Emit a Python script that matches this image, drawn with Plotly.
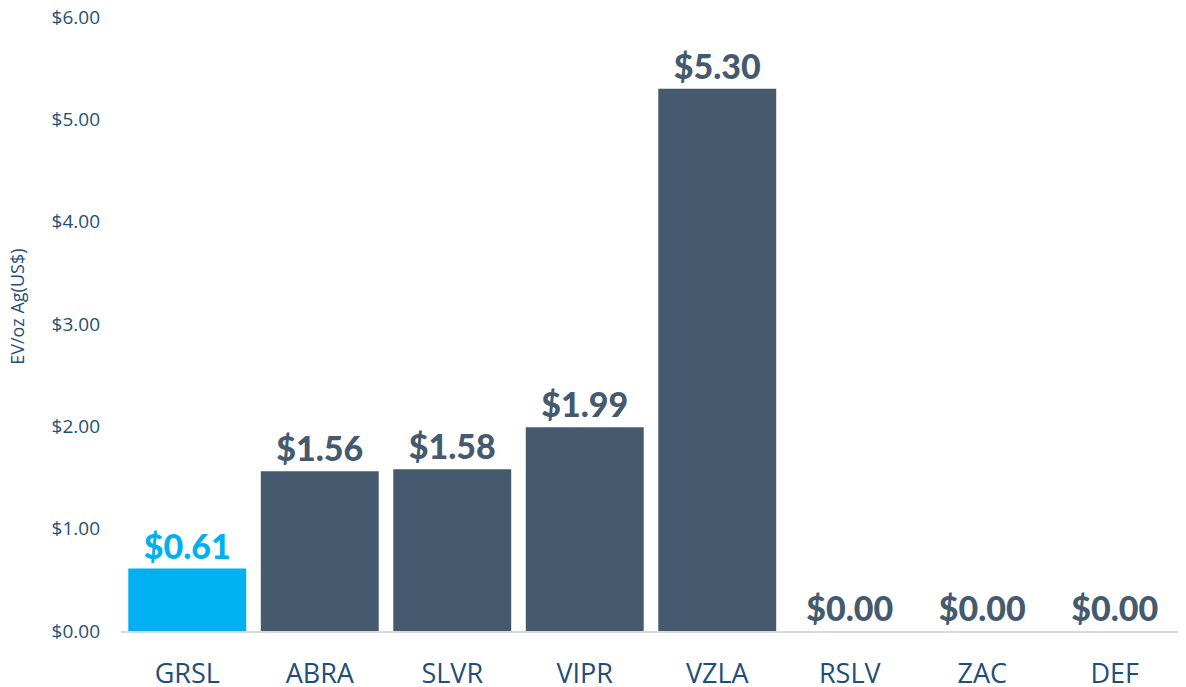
import plotly.graph_objects as go

categories = ["GRSL", "ABRA", "SLVR", "VIPR", "VZLA", "RSLV", "ZAC", "DEF"]
values = [0.61, 1.56, 1.58, 1.99, 5.30, 0.00, 0.00, 0.00]
y_ticks = [0, 1, 2, 3, 4, 5, 6]
y_tick_labels = ["$0.00", "$1.00", "$2.00", "$3.00", "$4.00", "$5.00", "$6.00"]
y_title = "EV/oz Ag(US$)"

HIGHLIGHT = "#00B0F0"
DARK = "#455A6E"
AXIS_TEXT = "#1F4E79"

colors = [HIGHLIGHT if c == "GRSL" else DARK for c in categories]
labels = [f"${v:.2f}" for v in values]

fig = go.Figure(
    go.Bar(
        x=categories,
        y=values,
        marker=dict(color=colors, line=dict(width=0)),
        text=labels,
        textposition="outside",
        textfont=dict(family="Lato", size=34, color=colors, weight=900),
        cliponaxis=False,
        hoverinfo="skip",
    )
)

# page body has an 8px default margin, so the figure is offset by (8, 8)
fig.update_layout(
    width=1178,
    height=679,
    margin=dict(l=113, r=5, t=9, b=56),
    paper_bgcolor="white",
    plot_bgcolor="white",
    bargap=0.11,
    showlegend=False,
)

fig.add_annotation(
    text=y_title,
    xref="paper", yref="paper",
    x=0, y=0.528,
    xanchor="center", yanchor="middle",
    xshift=-104,
    textangle=-90,
    showarrow=False,
    font=dict(family="Open Sans", size=18, color=AXIS_TEXT),
)

fig.update_xaxes(
    automargin=False,
    showgrid=False,
    showline=True,
    linecolor="#D9D9D9",
    linewidth=2,
    ticks="",
    tickfont=dict(family="Open Sans", size=27, color=AXIS_TEXT),
    ticklabelstandoff=18,
    ticklabeloverflow="allow",
)

fig.update_yaxes(
    automargin=False,
    range=[0, 6],
    tickvals=y_ticks,
    ticktext=y_tick_labels,
    showgrid=False,
    zeroline=False,
    showline=False,
    ticks="",
    tickfont=dict(family="Open Sans", size=19, color=AXIS_TEXT),
    ticklabelstandoff=20,
    ticklabeloverflow="allow",
)

fig.write_html("out.html")
